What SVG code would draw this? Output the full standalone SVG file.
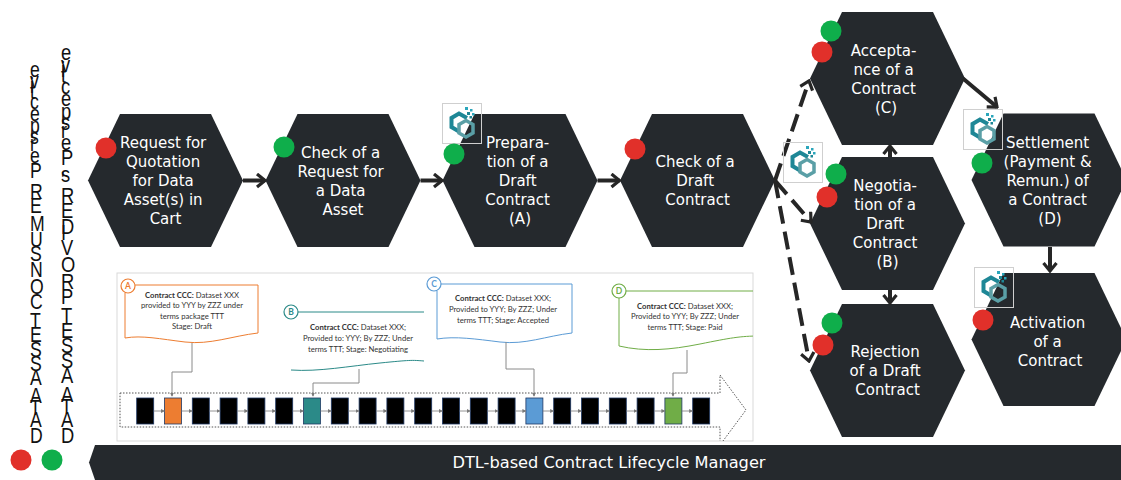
<svg xmlns="http://www.w3.org/2000/svg" xmlns:xlink="http://www.w3.org/1999/xlink" width="1121" height="480" viewBox="0 0 1121 480">
  <style>
    .hex { fill: #25292d; }
    .lbl { font-family: "DejaVu Sans", Verdana, sans-serif; font-size: 15px; fill: #ffffff; text-anchor: middle; }
    .flow { fill: none; stroke: #262626; stroke-width: 4; }
    .dash { stroke-dasharray: 18 8; }
    .red { fill: #e1302a; }
    .green { fill: #0fae4b; }
    .vt { font-family: "Liberation Sans", Arial, sans-serif; fill: #111111; }
    .note { font-family: Lato, "Liberation Sans", sans-serif; font-size: 7.7px; fill: #333333; text-anchor: middle; }
    .note .b { font-weight: bold; }
    .tag { font-family: Lato, "Liberation Sans", sans-serif; font-size: 8.5px; font-weight: bold; text-anchor: middle; }
    .blk { fill: #000000; stroke: #1f3864; stroke-width: 0.8; }
    .lead { fill: none; stroke: #8a8a8a; stroke-width: 1; }
    .tick { stroke: #7a7a7a; stroke-width: 0.8; }
  </style>
  <defs>
    <polygon id="hex" points="-77.5,0 -45.5,-66.5 45.5,-66.5 77.5,0 45.5,66.5 -45.5,66.5"/>
    <marker id="chev" markerUnits="userSpaceOnUse" viewBox="0 0 12 16" refX="10" refY="8" markerWidth="12" markerHeight="16" orient="auto">
      <path d="M2,1.5 L10,8 L2,14.5" fill="none" stroke="#262626" stroke-width="3.2" stroke-linejoin="miter"/>
    </marker>
    <marker id="tiny" markerUnits="userSpaceOnUse" viewBox="0 0 6 6" refX="5" refY="3" markerWidth="4" markerHeight="4" orient="auto">
      <path d="M0,0 L6,3 L0,6 Z" fill="#7a7a7a"/>
    </marker>
    <!-- small logo: two interlocked hexagons with pixel dots -->
    <symbol id="logo" viewBox="0 0 40 41">
      <rect x="0.5" y="0.5" width="39" height="40" fill="none" stroke="#cfcfcf" stroke-width="1"/>
      <path d="M25,15 L17,10.5 L9.5,15 L9.5,24 L17,28.5" fill="none" stroke="#1e8796" stroke-width="4" stroke-linejoin="miter"/>
      <path d="M17,21.5 L24,17.5 L31,21.5 L31,30 L24,34 L17,30 Z" fill="none" stroke="#5a9fa6" stroke-width="3.5"/>
      <rect x="23" y="4" width="3" height="3" fill="#2aa6bb"/>
      <rect x="28" y="6" width="2.5" height="2.5" fill="#2aa6bb"/>
      <rect x="25" y="9" width="3" height="3" fill="#1e8796"/>
      <rect x="30" y="10" width="2.5" height="2.5" fill="#2aa6bb"/>
      <rect x="27.5" y="13" width="2.5" height="2.5" fill="#1e8796"/>
    </symbol>
    <clipPath id="panelClip">
      <rect x="117" y="273" width="636" height="168"/>
    </clipPath>
  </defs>

  <rect width="1121" height="480" fill="#ffffff"/>

  <!-- perspective captions, stacked upright glyphs reading bottom to top -->
  <g id="captions">
    <text class="vt" font-size="21.5" transform="translate(30,443) scale(0.82,1) rotate(-90)" rotate="90">DATA ASSET CONSUMER Perspective</text>
    <text class="vt" font-size="22.4" transform="translate(61,443) scale(0.82,1) rotate(-90)" rotate="90">DATA ASSET PROVIDER's Perspective</text>
  </g>

  <!-- ledger timeline panel -->
  <g id="ledger-panel">
    <rect x="117" y="273" width="636" height="168" fill="#ffffff" stroke="#d9d9d9" stroke-width="1"/>
    <g clip-path="url(#panelClip)">
      <path d="M120,393 H720 V375 L746,410 L720,445 V427 H120 Z" fill="none" stroke="#555555" stroke-width="1" stroke-dasharray="1.5 1.5"/>

      <!-- blocks -->
      <g id="blocks">
        <rect class="blk" x="136.7" y="398" width="17" height="26"/>
        <rect class="blk" x="164.5" y="398" width="17" height="26" style="fill:#ed7d31"/>
        <rect class="blk" x="192.3" y="398" width="17" height="26"/>
        <rect class="blk" x="220.1" y="398" width="17" height="26"/>
        <rect class="blk" x="247.9" y="398" width="17" height="26"/>
        <rect class="blk" x="275.7" y="398" width="17" height="26"/>
        <rect class="blk" x="303.5" y="398" width="17" height="26" style="fill:#2b8a88"/>
        <rect class="blk" x="331.3" y="398" width="17" height="26"/>
        <rect class="blk" x="359.1" y="398" width="17" height="26"/>
        <rect class="blk" x="386.9" y="398" width="17" height="26"/>
        <rect class="blk" x="414.7" y="398" width="17" height="26"/>
        <rect class="blk" x="442.5" y="398" width="17" height="26"/>
        <rect class="blk" x="470.3" y="398" width="17" height="26"/>
        <rect class="blk" x="498.1" y="398" width="17" height="26"/>
        <rect class="blk" x="525.9" y="398" width="17" height="26" style="fill:#5b9bd5"/>
        <rect class="blk" x="553.7" y="398" width="17" height="26"/>
        <rect class="blk" x="581.5" y="398" width="17" height="26"/>
        <rect class="blk" x="609.3" y="398" width="17" height="26"/>
        <rect class="blk" x="637.1" y="398" width="17" height="26"/>
        <rect class="blk" x="664.9" y="398" width="17" height="26" style="fill:#70ad47"/>
        <rect class="blk" x="692.7" y="398" width="17" height="26"/>
      </g>
      <!-- links between blocks -->
      <g id="block-links" marker-end="url(#tiny)">
        <line class="tick" x1="153.7" y1="411" x2="164.3" y2="411"/>
        <line class="tick" x1="181.5" y1="411" x2="192.1" y2="411"/>
        <line class="tick" x1="209.3" y1="411" x2="219.9" y2="411"/>
        <line class="tick" x1="237.1" y1="411" x2="247.7" y2="411"/>
        <line class="tick" x1="264.9" y1="411" x2="275.5" y2="411"/>
        <line class="tick" x1="292.7" y1="411" x2="303.3" y2="411"/>
        <line class="tick" x1="320.5" y1="411" x2="331.1" y2="411"/>
        <line class="tick" x1="348.3" y1="411" x2="358.9" y2="411"/>
        <line class="tick" x1="376.1" y1="411" x2="386.7" y2="411"/>
        <line class="tick" x1="403.9" y1="411" x2="414.5" y2="411"/>
        <line class="tick" x1="431.7" y1="411" x2="442.3" y2="411"/>
        <line class="tick" x1="459.5" y1="411" x2="470.1" y2="411"/>
        <line class="tick" x1="487.3" y1="411" x2="497.9" y2="411"/>
        <line class="tick" x1="515.1" y1="411" x2="525.7" y2="411"/>
        <line class="tick" x1="542.9" y1="411" x2="553.5" y2="411"/>
        <line class="tick" x1="570.7" y1="411" x2="581.3" y2="411"/>
        <line class="tick" x1="598.5" y1="411" x2="609.1" y2="411"/>
        <line class="tick" x1="626.3" y1="411" x2="636.9" y2="411"/>
        <line class="tick" x1="654.1" y1="411" x2="664.7" y2="411"/>
        <line class="tick" x1="681.9" y1="411" x2="692.5" y2="411"/>
      </g>

      <!-- callout A -->
      <g id="callout-a">
        <path d="M135,285 H258 V333 C232,336 210,345 185,342 C160,339 142,335 125,338 V293" fill="none" stroke="#ed7d31" stroke-width="1"/>
        <circle cx="128" cy="286" r="7" fill="#ffffff" stroke="#ed7d31" stroke-width="1.2"/>
        <text class="tag" x="128" y="289.2" fill="#ed7d31">A</text>
        <text class="note" x="192" y="297.5"><tspan class="b">Contract CCC:</tspan> Dataset XXX</text>
        <text class="note" x="192" y="308">provided to YYY by ZZZ under</text>
        <text class="note" x="192" y="318.5">terms package TTT</text>
        <text class="note" x="192" y="329">Stage: Draft</text>
        <path class="lead" d="M192,343 V372 H172 V396" marker-end="url(#tiny)"/>
      </g>

      <!-- callout B -->
      <g id="callout-b">
        <path d="M298,312 H424" fill="none" stroke="#2b8a88" stroke-width="1"/>
        <path d="M291,370 C318,372 350,366 380,363 S412,360 424,361" fill="none" stroke="#2b8a88" stroke-width="1"/>
        <circle cx="291" cy="312" r="7" fill="#ffffff" stroke="#2b8a88" stroke-width="1.2"/>
        <text class="tag" x="291" y="315.2" fill="#2b8a88">B</text>
        <text class="note" x="358" y="329.5"><tspan class="b">Contract CCC:</tspan> Dataset XXX;</text>
        <text class="note" x="358" y="340.5">Provided to: YYY; By ZZZ; Under</text>
        <text class="note" x="358" y="351.5">terms TTT; Stage: Negotiating</text>
        <path class="lead" d="M359,369 V383 H313 V396" marker-end="url(#tiny)"/>
      </g>

      <!-- callout C -->
      <g id="callout-c">
        <path d="M441,284 H572 V333 C546,336 525,345 500,342 C476,339 455,336 437,339 V291" fill="none" stroke="#5b9bd5" stroke-width="1"/>
        <circle cx="434" cy="284" r="7" fill="#ffffff" stroke="#5b9bd5" stroke-width="1.2"/>
        <text class="tag" x="434" y="287.2" fill="#5b9bd5">C</text>
        <text class="note" x="503" y="300.5"><tspan class="b">Contract CCC:</tspan> Dataset XXX;</text>
        <text class="note" x="503" y="311.5">Provided to YYY; By ZZZ; Under</text>
        <text class="note" x="503" y="322.5">terms TTT; Stage: Accepted</text>
        <path class="lead" d="M506,342 V369 H534 V396" marker-end="url(#tiny)"/>
      </g>

      <!-- callout D -->
      <g id="callout-d">
        <path d="M626,291 H760" fill="none" stroke="#70ad47" stroke-width="1"/>
        <path d="M619,298 V346 C645,352 670,350 700,344 S740,336 760,336" fill="none" stroke="#70ad47" stroke-width="1"/>
        <circle cx="619" cy="291" r="7" fill="#ffffff" stroke="#70ad47" stroke-width="1.2"/>
        <text class="tag" x="619" y="294.2" fill="#70ad47">D</text>
        <text class="note" x="685" y="308.5"><tspan class="b">Contract CCC:</tspan> Dataset XXX;</text>
        <text class="note" x="685" y="319">Provided to YYY; By ZZZ; Under</text>
        <text class="note" x="685" y="330">terms TTT; Stage: Paid</text>
        <path class="lead" d="M687,350 V373 H673 V396" marker-end="url(#tiny)"/>
      </g>
    </g>
  </g>

  <!-- process nodes -->
  <g id="n-request">
    <use href="#hex" class="hex" transform="translate(165.5,180.5)"/>
    <text class="lbl">
      <tspan x="165.5" y="148">Request for</tspan>
      <tspan x="165.5" y="167">Quotation</tspan>
      <tspan x="165.5" y="186">for Data</tspan>
      <tspan x="165.5" y="205">Asset(s) in</tspan>
      <tspan x="165.5" y="224">Cart</tspan>
    </text>
  </g>
  <g id="n-check-request">
    <use href="#hex" class="hex" transform="translate(343,180.5)"/>
    <text class="lbl">
      <tspan x="343" y="157.5">Check of a</tspan>
      <tspan x="343" y="176.5">Request for</tspan>
      <tspan x="343" y="195.5">a Data</tspan>
      <tspan x="343" y="214.5">Asset</tspan>
    </text>
  </g>
  <g id="n-preparation">
    <use href="#hex" class="hex" transform="translate(520,180.5)"/>
    <text class="lbl">
      <tspan x="520" y="148">Prepara-</tspan>
      <tspan x="520" y="167">tion of a</tspan>
      <tspan x="520" y="186">Draft</tspan>
      <tspan x="520" y="205">Contract</tspan>
      <tspan x="520" y="224">(A)</tspan>
    </text>
  </g>
  <g id="n-check-draft">
    <use href="#hex" class="hex" transform="translate(697.5,180.5)"/>
    <text class="lbl">
      <tspan x="697.5" y="167">Check of a</tspan>
      <tspan x="697.5" y="186">Draft</tspan>
      <tspan x="697.5" y="205">Contract</tspan>
    </text>
  </g>
  <g id="n-acceptance">
    <use href="#hex" class="hex" transform="translate(887.5,78.5)"/>
    <text class="lbl">
      <tspan x="886" y="55.5">Accepta-</tspan>
      <tspan x="886" y="74.5">nce of a</tspan>
      <tspan x="886" y="93.5">Contract</tspan>
      <tspan x="886" y="112.5">(C)</tspan>
    </text>
  </g>
  <g id="n-negotiation">
    <use href="#hex" class="hex" transform="translate(887.5,223.5)"/>
    <text class="lbl">
      <tspan x="887.5" y="191">Negotia-</tspan>
      <tspan x="887.5" y="210">tion of a</tspan>
      <tspan x="887.5" y="229">Draft</tspan>
      <tspan x="887.5" y="248">Contract</tspan>
      <tspan x="887.5" y="267">(B)</tspan>
    </text>
  </g>
  <g id="n-rejection">
    <use href="#hex" class="hex" transform="translate(887.5,370.5)"/>
    <text class="lbl">
      <tspan x="887.5" y="357">Rejection</tspan>
      <tspan x="887.5" y="376">of a Draft</tspan>
      <tspan x="887.5" y="395">Contract</tspan>
    </text>
  </g>
  <g id="n-settlement">
    <use href="#hex" class="hex" transform="translate(1049,180)"/>
    <text class="lbl">
      <tspan x="1050" y="147.5">Settlement</tspan>
      <tspan x="1050" y="166.5">(Payment &amp;</tspan>
      <tspan x="1050" y="185.5">Remun.) of</tspan>
      <tspan x="1050" y="204.5">a Contract</tspan>
      <tspan x="1050" y="223.5">(D)</tspan>
    </text>
  </g>
  <g id="n-activation">
    <use href="#hex" class="hex" transform="translate(1049,339.5)"/>
    <text class="lbl">
      <tspan x="1050" y="327.5">Activation</tspan>
      <tspan x="1050" y="346.5">of a</tspan>
      <tspan x="1050" y="365.5">Contract</tspan>
    </text>
  </g>

  <!-- connectors -->
  <g id="connectors" marker-end="url(#chev)">
    <line class="flow" x1="243" y1="180.5" x2="265" y2="180.5"/>
    <line class="flow" x1="420.5" y1="180.5" x2="442" y2="180.5"/>
    <line class="flow" x1="597.5" y1="180.5" x2="619.5" y2="180.5"/>
    <line class="flow dash" x1="775" y1="180.5" x2="809" y2="81"/>
    <line class="flow dash" x1="775" y1="180.5" x2="811" y2="222"/>
    <line class="flow dash" x1="775" y1="180.5" x2="809" y2="361"/>
    <line class="flow" x1="890" y1="157" x2="890" y2="146"/>
    <line class="flow" x1="890" y1="290" x2="890" y2="303"/>
    <line class="flow" x1="963" y1="78.5" x2="997" y2="107"/>
    <line class="flow" x1="1050" y1="247" x2="1050" y2="271"/>
  </g>

  <!-- ledger logos -->
  <g id="logos">
    <use href="#logo" x="442" y="103" width="40" height="41"/>
    <use href="#logo" x="783" y="142" width="40" height="41"/>
    <use href="#logo" x="963" y="109" width="40" height="41"/>
    <use href="#logo" x="974" y="267" width="40" height="41"/>
  </g>

  <!-- role markers -->
  <g id="markers">
    <circle class="red" cx="106" cy="148" r="10.5"/>
    <circle class="green" cx="284" cy="147" r="10.5"/>
    <circle class="green" cx="454" cy="154" r="10.5"/>
    <circle class="red" cx="635" cy="149" r="10.5"/>
    <circle class="green" cx="831" cy="31" r="10.5"/>
    <circle class="red" cx="822" cy="52" r="10.5"/>
    <circle class="green" cx="836" cy="174" r="10.5"/>
    <circle class="red" cx="827" cy="197" r="10.5"/>
    <circle class="green" cx="832" cy="323" r="10.5"/>
    <circle class="red" cx="823" cy="345" r="10.5"/>
    <circle class="green" cx="982" cy="163" r="10.5"/>
    <circle class="red" cx="983" cy="320" r="10.5"/>
    <circle class="red" cx="21" cy="460" r="10.5"/>
    <circle class="green" cx="52" cy="460" r="10.5"/>
  </g>

  <!-- base layer bar -->
  <g id="dtl-bar">
    <polygon points="95,445 1121,445 1121,480 95,480 89,462.5" fill="#25292d"/>
    <text x="609" y="468" font-family="'DejaVu Sans', Verdana, sans-serif" font-size="16" fill="#ffffff" text-anchor="middle" textLength="313" lengthAdjust="spacingAndGlyphs">DTL-based Contract Lifecycle Manager</text>
  </g>
</svg>
